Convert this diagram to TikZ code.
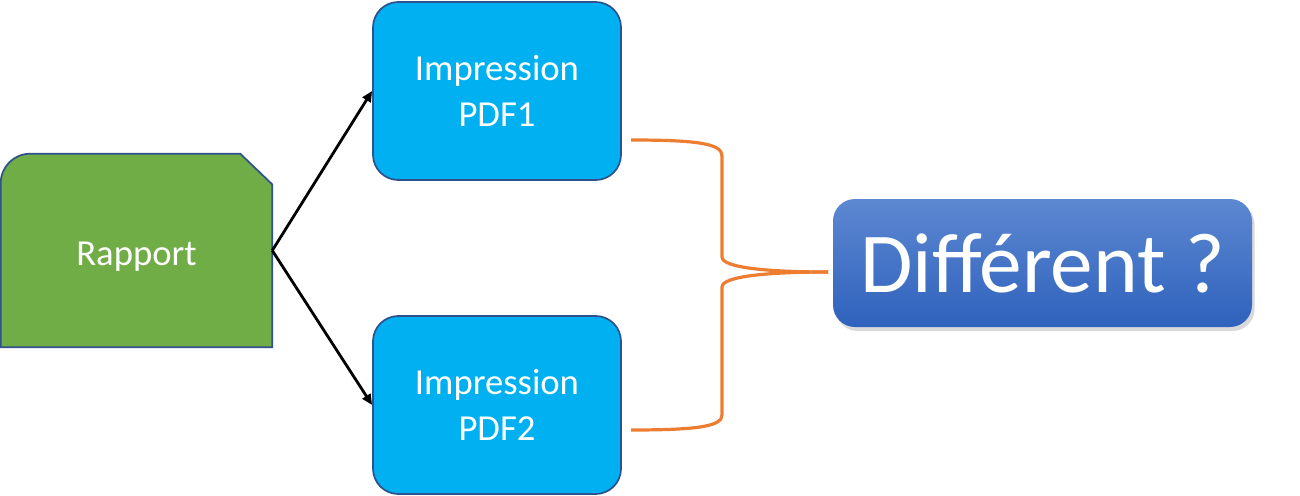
\documentclass[tikz,border=0pt]{standalone}
\usepackage{fontspec}
\setmainfont{Carlito}
\usetikzlibrary{arrows.meta,calc,shadows}
\definecolor{rgreen}{HTML}{70AD47}
\definecolor{pcyan}{HTML}{00B0F0}
\definecolor{bord}{HTML}{2F528F}
\definecolor{bor}{HTML}{ED7D31}
\definecolor{dtop}{HTML}{5D88D1}
\definecolor{dbot}{HTML}{2F62BD}
\tikzset{
  pdfbox/.style={draw=bord, line width=1.3pt, fill=pcyan, rounded corners=19pt,
    minimum width=186pt, minimum height=133.5pt, text=white, align=center,
    font=\fontsize{27.5pt}{34.5pt}\selectfont},
  conn/.style={line width=2.1pt, -{Triangle[length=8pt,width=7pt]}},
  brace/.style={draw=bor, line width=2.4pt},
}
\begin{document}
\begin{tikzpicture}[x=0.75pt,y=-0.75pt]
\useasboundingbox (0,0) rectangle (1300,496);
% Rapport
\node (rap) at (136.5,250.5) [minimum width=203.25pt, minimum height=144.75pt, inner sep=0pt] {};
\draw[draw=bord, line width=1.3pt, fill=rgreen]
  (rap.south west) -- ($(rap.north west)+(0,-22pt)$)
  arc[start angle=180, end angle=90, radius=22pt]
  -- ($(rap.north east)+(-24pt,0)$) -- ($(rap.north east)+(0,-23pt)$)
  -- (rap.south east) -- cycle;
\node[text=white, font=\fontsize{27.5pt}{34.5pt}\selectfont] (raptxt) at ($(rap.center)+(0,-5pt)$) {Rapport};
% PDF boxes
\node[pdfbox] (p1) at (497,91) {Impression\\PDF1};
\node[pdfbox] (p2) at (497,405) {Impression\\PDF2};
% arrows
\draw[conn] (rap.east) -- (p1.west);
\draw[conn] (rap.east) -- (p2.west);
% Different
\node[rounded corners=16.5pt, top color=dtop, bottom color=dbot,
  drop shadow={opacity=0.3, shadow xshift=2pt, shadow yshift=-3pt},
  minimum width=314.25pt, minimum height=96pt, text=white,
  font=\fontsize{64pt}{72pt}\selectfont] (d) at (1042.5,263) {Différent ?};
% brace
\coordinate (b1) at (631,140);
\coordinate (b2) at (631,430);
\coordinate (bt) at (828,272);
\draw[brace] (b1) .. controls (700,140) and (722,144) .. (722,156)
  -- (722,257) .. controls (722,268) and (770,272) .. (bt);
\draw[brace] (bt) .. controls (770,272) and (722,276) .. (722,287)
  -- (722,415) .. controls (722,426) and (700,430) .. (b2);
\end{tikzpicture}
\end{document}
